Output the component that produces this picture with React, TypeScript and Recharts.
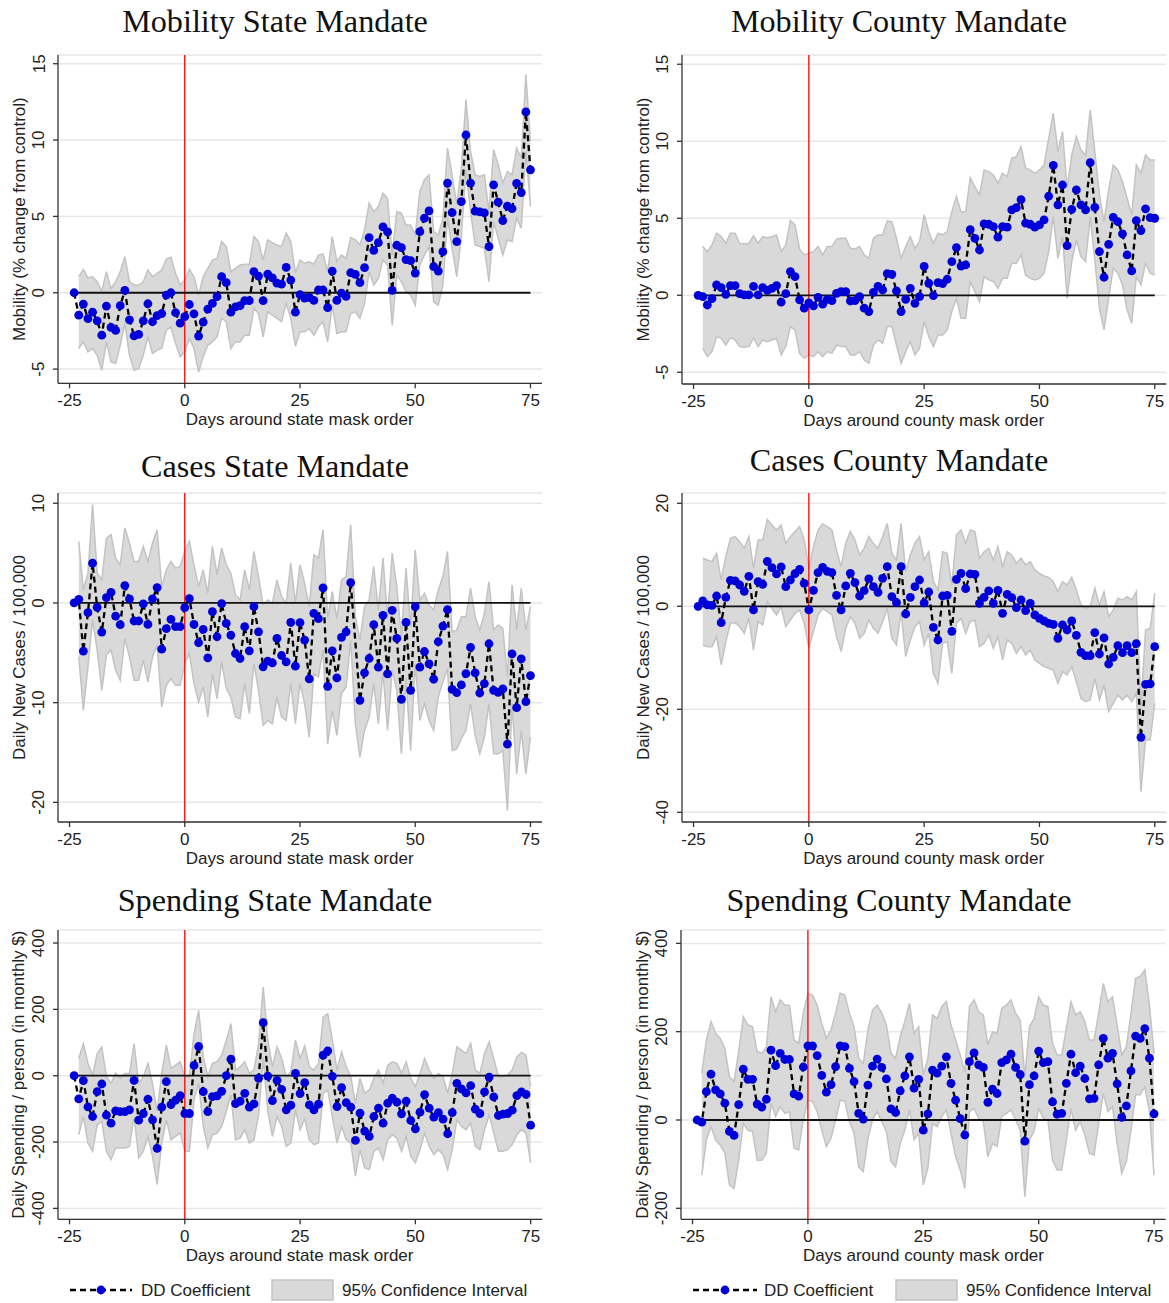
import React from 'react';
import { ComposedChart, Line, Area, XAxis, YAxis, CartesianGrid, ReferenceLine } from 'recharts';

// Days around the mask order (-24 .. 75)
const DAYS: number[] = Array.from({ length: 100 }, (_, i) => i - 24);
const X_TICKS = [-25, 0, 25, 50, 75];

// ---------- Mobility, state mandate ----------
const MOB_STATE_COEF = [
  0, -1.47, -0.74, -1.70, -1.27, -1.84, -2.78, -0.87, -2.27, -2.47,
  -0.85, 0.15, -1.77, -2.82, -2.73, -1.84, -0.72, -1.90, -1.50, -1.36,
  -0.15, 0.00, -1.31, -1.99, -1.57, -0.77, -1.38, -2.84, -1.92, -1.07,
  -0.70, -0.26, 1.05, 0.66, -1.27, -0.92, -0.85, -0.52, -0.52, 1.38,
  1.09, -0.52, 1.22, 0.98, 0.63, 0.57, 1.66, 0.83, -1.27, -0.13,
  -0.35, -0.31, -0.50, 0.18, 0.18, -0.98, 1.42, -0.50, -0.02, -0.24,
  1.31, 1.20, 0.66, 1.64, 3.61, 2.78, 3.28, 4.31, 3.98, 0.15,
  3.11, 2.95, 2.17, 2.10, 1.29, 4.00, 4.88, 5.36, 1.71, 1.42,
  2.69, 7.18, 5.25, 3.35, 5.97, 10.33, 7.18, 5.34, 5.30, 5.23,
  3.02, 7.07, 5.93, 4.73, 5.67, 5.51, 7.16, 6.56, 11.84, 8.05,
];
const MOB_STATE_HI = [
  null, 1.05, 1.53, 0.98, 1.05, 0.72, 0.07, 1.38, 0.28, 0.72,
  1.38, 2.36, 0.72, 0.50, 0.50, 0.72, 1.49, 1.05, 1.27, 1.49,
  2.21, 2.32, 1.27, 0.50, 0.83, 1.53, 1.05, -0.15, 1.05, 1.60,
  2.14, 2.25, 3.35, 3.02, 1.38, 1.60, 1.82, 1.86, 1.86, 3.68,
  3.35, 2.14, 3.46, 3.28, 3.13, 3.02, 3.90, 3.35, 1.30, 2.14,
  1.93, 2.03, 1.88, 2.47, 2.54, 1.38, 3.68, 2.03, 2.47, 2.25,
  3.61, 3.46, 3.13, 4.11, 5.86, 5.32, 5.65, 6.52, 6.19, 2.47,
  5.32, 5.21, 4.44, 4.44, 3.79, 6.63, 7.40, 7.72, 4.00, 3.79,
  4.88, 9.47, 7.72, 5.75, 8.16, 12.65, 9.26, 7.72, 7.61, 7.72,
  5.32, 9.37, 8.38, 7.18, 7.94, 7.72, 9.47, 8.82, 14.29, 9.91,
];
const MOB_STATE_LO = [
  null, -3.65, -3.22, -3.87, -3.65, -4.09, -5.08, -3.22, -4.53, -4.64,
  -3.44, -2.01, -4.09, -5.08, -4.97, -4.09, -2.89, -3.98, -3.76, -3.65,
  -2.45, -2.23, -3.33, -4.20, -3.87, -3.00, -3.65, -5.19, -4.20, -3.44,
  -3.22, -2.89, -1.68, -1.90, -3.65, -3.22, -3.22, -2.78, -2.78, -1.03,
  -1.36, -2.89, -1.25, -1.47, -1.68, -1.90, -0.70, -1.68, -3.50, -2.56,
  -2.56, -2.34, -2.78, -2.23, -1.90, -3.22, -0.81, -2.67, -2.56, -2.56,
  -1.36, -1.25, -1.68, -0.70, 1.38, 0.50, 0.94, 2.14, 1.82, -2.12,
  1.16, 0.72, 0.07, -0.15, -0.81, 1.82, 2.47, 3.02, -0.59, -0.81,
  0.50, 4.88, 2.91, 1.05, 3.68, 8.05, 5.32, 3.13, 3.02, 2.91,
  0.72, 4.66, 3.57, 2.47, 3.46, 3.35, 4.88, 4.22, 9.26, 5.65,
];

// ---------- Mobility, county mandate ----------
const MOB_COUNTY_COEF = [
  0, -0.09, -0.63, -0.22, 0.67, 0.50, 0.06, 0.63, 0.63, 0.11,
  0.02, 0.02, 0.58, 0.02, 0.50, 0.32, 0.45, 0.63, -0.45, 0.11,
  1.54, 1.21, -0.30, -0.84, -0.50, -0.69, -0.13, -0.58, -0.26, -0.35,
  0.13, 0.24, 0.24, -0.37, -0.35, -0.09, -0.84, -1.06, 0.19, 0.58,
  0.35, 1.41, 1.36, 0.28, -1.06, -0.26, 0.45, -0.52, -0.09, 1.88,
  0.78, -0.02, 0.82, 0.76, 1.04, 2.19, 3.10, 1.90, 1.97, 4.26,
  3.70, 2.94, 4.63, 4.61, 4.46, 3.77, 4.46, 4.42, 5.54, 5.69,
  6.21, 4.68, 4.61, 4.42, 4.57, 4.89, 6.43, 8.44, 5.87, 7.16,
  3.23, 5.58, 6.84, 5.87, 5.54, 8.61, 5.71, 2.84, 1.17, 3.31,
  5.06, 4.78, 3.98, 2.62, 1.58, 4.85, 4.20, 5.61, 5.04, 5.00,
];
const MOB_COUNTY_HI = [
  null, 3.16, 2.84, 3.27, 4.03, 3.81, 3.38, 4.03, 4.03, 3.38,
  3.33, 3.38, 3.85, 3.38, 3.81, 3.74, 3.81, 3.92, 2.84, 3.27,
  4.85, 4.57, 2.99, 2.62, 2.73, 2.84, 3.16, 2.62, 3.16, 3.16,
  3.64, 3.70, 3.70, 3.05, 3.01, 3.16, 2.62, 2.40, 3.70, 3.92,
  3.92, 4.83, 4.78, 3.70, 2.40, 3.16, 3.81, 3.05, 3.48, 5.24,
  4.13, 3.38, 4.03, 3.92, 4.13, 5.43, 6.41, 5.43, 5.43, 7.64,
  7.06, 6.52, 8.14, 8.03, 7.81, 7.27, 7.92, 7.71, 8.90, 9.00,
  9.65, 8.25, 8.14, 7.92, 8.14, 8.46, 10.19, 11.82, 9.33, 10.63,
  6.95, 9.11, 10.30, 9.44, 9.11, 12.03, 9.33, 6.52, 4.78, 6.84,
  8.46, 8.14, 7.38, 6.30, 5.22, 8.46, 7.92, 9.11, 8.79, 8.79,
];
const MOB_COUNTY_LO = [
  null, -3.44, -3.98, -3.66, -2.68, -2.79, -3.23, -2.75, -2.90, -3.33,
  -3.38, -3.33, -2.79, -3.33, -2.90, -3.01, -2.90, -2.79, -3.87, -3.33,
  -2.03, -2.25, -3.77, -4.09, -3.87, -3.98, -3.66, -3.98, -3.66, -3.77,
  -3.23, -3.33, -3.33, -3.87, -3.87, -3.66, -4.20, -4.42, -3.23, -2.90,
  -3.12, -2.03, -2.03, -3.23, -4.42, -3.66, -3.01, -3.87, -3.44, -1.71,
  -2.68, -3.33, -2.58, -2.58, -2.25, -1.06, -0.19, -1.49, -1.49, 0.89,
  0.24, -0.41, 1.21, 1.00, 0.89, 0.45, 1.10, 1.10, 2.08, 2.08,
  2.62, 1.32, 1.10, 1.00, 1.10, 1.43, 2.84, 5.11, 2.40, 3.81,
  -0.19, 2.19, 3.59, 2.51, 2.19, 5.11, 2.29, -0.84, -2.25, -0.19,
  1.75, 1.43, 0.67, -0.95, -1.82, 1.21, 0.67, 2.08, 1.43, 1.32,
];

// ---------- Cases, state mandate ----------
const CASES_STATE_COEF = [
  0, 0.37, -4.83, -0.97, 3.99, -0.44, -2.92, 0.54, 1.07, -1.31,
  -2.18, 1.74, 0.40, -1.81, -1.81, -0.10, -2.15, 0.40, 1.54, -4.63,
  -2.58, -1.64, -2.38, -2.38, -0.47, 0.44, -2.15, -3.99, -2.65, -5.50,
  -0.87, -3.39, -0.07, -2.05, -3.22, -5.07, -5.57, -2.38, -4.80, -0.37,
  -2.89, -6.41, -5.84, -6.01, -3.56, -5.27, -5.91, -1.95, -6.34, -1.98,
  -3.72, -7.62, -1.04, -1.58, 1.51, -8.36, -4.80, -7.52, -3.46, -2.89,
  2.05, null, -9.77, -7.01, -5.57, -2.18, -6.44, -1.24, -7.11, -0.74,
  -3.56, -9.66, -1.95, -8.76, -0.37, -6.44, -4.87, -6.11, -7.65, -3.89,
  -2.32, -0.67, -8.66, -8.99, -8.22, -7.08, -4.46, -7.01, -9.03, -8.09,
  -4.09, -8.76, -8.96, -8.62, -14.16, -5.10, -10.50, -5.60, -9.90, -7.28,
];
const CASES_STATE_HI = [
  null, 6.17, 1.31, 2.99, 9.87, 2.99, 2.32, 6.51, 6.85, 4.50,
  3.83, 7.52, 6.01, 4.16, 4.16, 5.67, 4.16, 6.01, 7.35, 1.64,
  3.32, 4.16, 3.49, 3.66, 5.17, 6.17, 3.83, 1.64, 3.32, 0.97,
  5.67, 2.82, 5.50, 3.83, 2.99, 0.81, 0.30, 3.32, 1.31, 5.17,
  2.65, -0.20, 0.30, -0.03, 2.32, 0.64, -0.03, 3.99, -0.03, 3.83,
  1.98, -0.37, 4.83, 4.50, 7.35, -1.54, 1.14, -1.54, 2.32, 2.65,
  7.85, -1.38, -3.72, -0.37, 0.30, 3.66, -0.70, 4.50, -1.38, 5.00,
  1.64, -3.39, 3.49, -2.38, 5.34, 0.30, 0.97, -0.20, -0.70, 1.31,
  2.65, 5.17, -2.89, -2.72, -1.38, -1.38, 1.48, -1.38, -2.72, -1.04,
  2.15, -2.72, -2.21, -2.55, -7.42, 1.81, -2.72, 1.48, -2.72, -0.37,
];
const CASES_STATE_LO = [
  null, -5.40, -10.77, -6.41, -1.71, -4.73, -8.76, -5.23, -4.73, -6.74,
  -7.75, -3.56, -5.40, -7.75, -7.75, -5.74, -7.92, -5.40, -4.23, -10.44,
  -8.26, -7.58, -8.26, -8.26, -6.07, -5.07, -8.09, -9.93, -8.42, -11.44,
  -7.08, -9.60, -5.91, -8.59, -9.43, -11.44, -11.61, -8.09, -11.11, -6.07,
  -8.76, -12.28, -11.78, -12.11, -9.43, -11.44, -11.78, -8.09, -12.11, -8.09,
  -10.10, -13.46, -7.08, -7.42, -4.73, -14.13, -10.77, -13.29, -9.09, -8.42,
  -3.72, -12.11, -15.47, -12.79, -11.44, -8.09, -12.11, -6.91, -12.79, -6.74,
  -8.76, -15.13, -7.58, -14.80, -6.07, -11.78, -10.10, -11.78, -12.79, -9.43,
  -7.92, -6.58, -14.80, -14.63, -13.62, -12.79, -10.10, -13.29, -15.13, -13.46,
  -10.10, -15.13, -15.13, -14.80, -20.84, -10.10, -17.15, -12.79, -17.15, -13.46,
];

// ---------- Cases, county mandate ----------
const CASES_COUNTY_COEF = [
  0, 1.04, 0.26, 0.19, 2.00, -3.17, 1.75, 5.05, 4.92, 4.14,
  2.91, 5.83, -0.71, 4.79, 4.27, 8.74, 7.51, 6.28, 7.64, 3.82,
  5.11, 6.34, 7.18, 4.47, -0.71, 3.11, 6.54, 7.57, 6.80, 6.54,
  2.14, -0.71, 3.95, 6.41, 4.60, 2.00, 3.04, 5.31, 3.82, 2.72,
  5.44, 7.70, 1.88, 0.71, 7.70, -1.49, 1.75, 3.82, 5.11, 0.65,
  2.78, -4.08, -6.54, 2.00, 2.14, -4.85, 5.24, 6.41, 3.43, 6.28,
  6.21, 0.58, 1.75, 2.98, 0.58, 3.11, -1.36, 2.33, 1.68, -0.26,
  1.23, -0.84, 0.58, -1.68, -2.33, -2.85, -3.30, -3.50, -6.21, -3.62,
  -4.60, -2.85, -5.63, -8.93, -9.58, -9.58, -5.11, -9.26, -6.15, -11.20,
  -9.90, -7.64, -9.00, -7.64, -9.00, -7.25, -25.44, -15.15, -15.08, -7.83,
];
const CASES_COUNTY_HI = [
  null, 9.32, 9.00, 8.67, 10.29, 5.11, 9.64, 13.20, 13.53, 12.56,
  11.26, 13.53, 7.38, 12.88, 12.88, 16.89, 15.79, 14.82, 15.79, 12.23,
  13.53, 14.50, 15.47, 12.88, 7.38, 11.59, 14.82, 15.99, 15.47, 14.82,
  10.94, 7.70, 12.23, 14.50, 12.88, 9.97, 11.26, 13.53, 12.23, 11.26,
  13.53, 16.12, 10.29, 9.00, 16.12, 6.73, 9.97, 12.23, 13.53, 9.00,
  10.61, 4.79, 3.17, 10.61, 10.29, 4.14, 13.85, 14.82, 12.23, 14.82,
  14.50, 9.32, 10.61, 11.26, 9.00, 11.59, 7.70, 10.61, 9.97, 8.35,
  9.32, 8.03, 8.67, 7.06, 6.41, 5.89, 5.63, 4.79, 2.85, 4.79,
  4.14, 5.63, 3.17, 0.26, -0.39, -0.06, 3.50, 0.26, 2.85, -2.01,
  -0.71, 1.55, 1.23, 1.88, 1.23, 2.85, -19.50, -4.60, -4.27, 2.52,
];
const CASES_COUNTY_LO = [
  null, -7.51, -7.83, -7.83, -5.89, -11.39, -6.86, -3.30, -3.17, -3.95,
  -5.24, -2.33, -8.48, -2.98, -3.62, 0.91, -0.39, -1.68, -0.06, -3.95,
  -2.65, -1.36, -0.71, -3.30, -8.16, -4.92, -1.68, -0.39, -1.04, -1.68,
  -5.89, -8.80, -4.27, -2.01, -3.30, -6.21, -5.24, -2.65, -4.27, -5.24,
  -2.98, -0.39, -6.21, -7.51, -1.04, -9.77, -6.54, -3.95, -2.98, -7.51,
  -5.24, -13.01, -14.95, -7.18, -6.86, -13.01, -3.30, -2.33, -5.24, -2.98,
  -2.65, -7.83, -7.18, -5.57, -8.16, -5.89, -10.42, -6.54, -7.18, -9.13,
  -7.83, -9.45, -8.48, -10.42, -11.07, -11.72, -12.04, -12.36, -14.95, -12.69,
  -13.33, -11.72, -14.63, -17.86, -18.51, -18.19, -13.98, -18.19, -15.28, -20.45,
  -18.83, -17.22, -18.19, -17.22, -18.51, -16.89, -35.99, -25.95, -25.95, -18.83,
];

// ---------- Spending, state mandate ----------
const SPEND_STATE_COEF = [
  0, -70, -15, -94, -123, -48, -25, -119, -143, -106,
  -108, -108, -103, -14, -134, -114, -71, -133, -219, -95,
  -18, -87, -74, -60, -114, -114, 31, 88, -48, -108,
  -63, -61, -47, 0, 50, -84, -77, -53, -95, -85,
  -8, 160, -1, -75, -14, -41, -103, -89, 7, -54,
  -21, -88, -103, -86, 62, 75, -2, -93, -36, -81,
  -95, -195, -113, -167, -183, -123, -98, -143, -83, -68,
  -80, -115, -77, -135, -160, -110, -57, -98, -125, -111,
  -131, -175, -111, -23, -40, -52, -30, -101, -114, -49,
  -4, -64, -120, -116, -114, -104, -60, -49, -56, -149,
];
const SPEND_STATE_HI = [
  null, 52, 97, 37, 2, 67, 87, -3, -23, 7,
  -8, 7, 7, 97, -23, -3, 37, -23, -108, 7,
  92, 22, 32, 42, -3, -3, 127, 197, 57, -3,
  37, 42, 62, 107, 157, 17, 27, 42, 7, 17,
  97, 267, 107, 27, 87, 52, -3, 12, 107, 52,
  90, 27, 17, 37, 177, 187, 107, 17, 72, 27,
  -3, -83, -8, -53, -43, -8, 17, -23, 32, 42,
  37, 7, 42, -8, -33, 7, 52, 17, -8, 7,
  -3, -53, 7, 87, 77, 67, 97, 17, 7, 67,
  102, 52, -3, -3, 2, 17, 57, 70, 62, -33,
];
const SPEND_STATE_LO = [
  null, -178, -123, -203, -228, -148, -138, -228, -253, -218,
  -218, -218, -213, -123, -248, -228, -183, -243, -328, -203,
  -133, -193, -183, -173, -228, -228, -73, -23, -153, -218,
  -178, -173, -153, -108, -58, -193, -188, -163, -203, -193,
  -118, 52, -108, -183, -123, -153, -213, -203, -103, -163,
  -130, -193, -208, -203, -53, -43, -123, -203, -153, -193,
  -203, -303, -223, -278, -283, -228, -218, -253, -193, -178,
  -188, -228, -183, -243, -263, -223, -173, -213, -238, -223,
  -238, -283, -223, -133, -153, -163, -143, -213, -223, -163,
  -118, -173, -228, -228, -223, -208, -178, -163, -173, -263,
];

// ---------- Spending, county mandate ----------
const SPEND_COUNTY_COEF = [
  0, -5, 64, 104, 68, 59, 38, -26, -35, 35,
  115, 92, 92, 36, 29, 47, 158, 123, 151, 137,
  137, 59, 54, 120, 168, 168, 146, 101, 63, 80,
  121, 168, 166, 117, 87, 15, 2, 79, 122, 138,
  119, 93, 25, 17, 66, 100, 143, 72, 92, -23,
  14, 113, 106, 122, 143, 83, 45, 3, -34, 132,
  152, 125, 119, 40, 70, 60, 130, 136, 149, 119,
  103, -48, 80, 100, 156, 130, 132, 41, 13, 15,
  83, 149, 107, 122, 94, 48, 49, 125, 185, 140,
  151, 82, 6, 32, 111, 190, 185, 207, 140, 14,
];
const SPEND_COUNTY_HI = [
  null, 106, 181, 223, 196, 185, 162, 98, 87, 155,
  234, 215, 211, 155, 151, 166, 279, 245, 272, 260,
  260, 181, 174, 242, 287, 283, 260, 219, 185, 204,
  242, 287, 283, 242, 211, 140, 128, 204, 249, 260,
  242, 215, 151, 140, 189, 223, 264, 196, 211, 102,
  140, 238, 230, 257, 268, 215, 181, 147, 109, 257,
  272, 245, 238, 170, 200, 196, 253, 260, 272, 242,
  226, 98, 211, 230, 279, 260, 257, 174, 147, 147,
  208, 268, 238, 245, 223, 181, 181, 242, 309, 268,
  279, 215, 147, 166, 242, 321, 325, 340, 260, 151,
];
const SPEND_COUNTY_LO = [
  null, -125, -45, -15, -45, -57, -75, -147, -155, -91,
  -8, -23, -26, -91, -91, -75, 38, 8, 30, 15,
  19, -64, -68, 0, 45, 42, 19, -23, -60, -42,
  0, 45, 42, -4, -30, -106, -117, -42, 0, 19,
  -4, -26, -94, -106, -53, -23, 23, -45, -30, -147,
  -109, -8, -15, 8, 23, -30, -83, -113, -155, 19,
  26, 4, -4, -83, -53, -60, 8, 15, 23, 0,
  -23, -174, -45, -26, 26, 4, 0, -91, -113, -113,
  -45, 26, -23, -4, -34, -75, -79, -8, 60, 19,
  30, -53, -121, -94, -23, 57, 57, 75, 19, -125,
];

const SANS = "'Liberation Sans', Arial, Helvetica, sans-serif";
const SERIF = "'Liberation Serif', 'Times New Roman', serif";
const DOT_BLUE = '#0000d8';
const BAND_FILL = '#d9d9d9';
const BAND_STROKE = '#c3c3c3';

type PanelCfg = {
  title: string; titleX: number; titleY: number;
  yTitle: string; xTitle: string;
  left: number; right: number; top: number; bottom: number;
  yDomain: [number, number]; yTicks: number[];
  coef: (number | null)[]; lo: (number | null)[]; hi: (number | null)[];
};

const PANELS: PanelCfg[] = [
  { title: 'Mobility State Mandate', titleX: 275, titleY: 22, yTitle: 'Mobility (% change from control)', xTitle: 'Days around state mask order',
    left: 57.7, right: 541.7, top: 55, bottom: 383.3, yDomain: [-5.93, 15.57], yTicks: [-5, 0, 5, 10, 15],
    coef: MOB_STATE_COEF, lo: MOB_STATE_LO, hi: MOB_STATE_HI },
  { title: 'Mobility County Mandate', titleX: 899, titleY: 22, yTitle: 'Mobility (% change from control)', xTitle: 'Days around county mask order',
    left: 681.5, right: 1165.8, top: 55, bottom: 384, yDomain: [-5.76, 15.6], yTicks: [-5, 0, 5, 10, 15],
    coef: MOB_COUNTY_COEF, lo: MOB_COUNTY_LO, hi: MOB_COUNTY_HI },
  { title: 'Cases State Mandate', titleX: 275, titleY: 467, yTitle: 'Daily New Cases / 100,000', xTitle: 'Days around state mask order',
    left: 57.7, right: 541.7, top: 493, bottom: 822, yDomain: [-21.97, 11.03], yTicks: [-20, -10, 0, 10],
    coef: CASES_STATE_COEF, lo: CASES_STATE_LO, hi: CASES_STATE_HI },
  { title: 'Cases County Mandate', titleX: 899, titleY: 461, yTitle: 'Daily New Cases / 100,000', xTitle: 'Days around county mask order',
    left: 681.5, right: 1165.8, top: 493, bottom: 822, yDomain: [-41.88, 22.0], yTicks: [-40, -20, 0, 20],
    coef: CASES_COUNTY_COEF, lo: CASES_COUNTY_LO, hi: CASES_COUNTY_HI },
  { title: 'Spending State Mandate', titleX: 275, titleY: 901, yTitle: 'Daily Spending / person (in monthly $)', xTitle: 'Days around state mask order',
    left: 57.5, right: 541.7, top: 930, bottom: 1219.3, yDomain: [-432.9, 439.3], yTicks: [-400, -200, 0, 200, 400],
    coef: SPEND_STATE_COEF, lo: SPEND_STATE_LO, hi: SPEND_STATE_HI },
  { title: 'Spending County Mandate', titleX: 899, titleY: 901, yTitle: 'Daily Spending / person (in monthly $)', xTitle: 'Days around county mask order',
    left: 681.2, right: 1165.8, top: 930, bottom: 1219.3, yDomain: [-224.9, 430.3], yTicks: [-200, 0, 200, 400],
    coef: SPEND_COUNTY_COEF, lo: SPEND_COUNTY_LO, hi: SPEND_COUNTY_HI },
];

const XTick = (p: any) => (
  <text x={p.x} y={p.y + 18} textAnchor="middle" fontFamily={SANS} fontSize={17} fill="#222">
    {p.payload.value}
  </text>
);

const YTick = (p: any) => {
  const bx = p.x - 8.5;
  return (
    <text x={bx} y={p.y} transform={`rotate(-90 ${bx} ${p.y})`} textAnchor="middle" fontFamily={SANS} fontSize={17} fill="#222">
      {p.payload.value}
    </text>
  );
};

const BlueDot = (p: any) => {
  if (p.cy == null || p.value == null || isNaN(p.cy)) return <g key={p.key ?? `d${p.index}`} />;
  return <circle key={p.key ?? `d${p.index}`} cx={p.cx} cy={p.cy} r={4.4} fill={DOT_BLUE} stroke="none" />;
};

function Panel({ cfg }: { cfg: PanelCfg }) {
  const ML = 60, MT = 10, MR = 10, XH = 45;
  const pw = cfg.right - cfg.left;
  const ph = cfg.bottom - cfg.top;
  const W = pw + ML + MR;
  const H = ph + MT + XH;
  const data = DAYS.map((d, i) => ({
    day: d,
    coef: cfg.coef[i],
    band: cfg.lo[i] == null || cfg.hi[i] == null ? null : [cfg.lo[i], cfg.hi[i]],
  }));
  return (
    <div style={{ position: 'absolute', left: cfg.left - ML, top: cfg.top - MT, width: W, height: H }}>
      <ComposedChart width={W} height={H} data={data} margin={{ top: MT, right: MR, bottom: 0, left: 0 }}>
        <CartesianGrid vertical={false} stroke="#e7e7e7" strokeWidth={1.5} />
        <XAxis type="number" dataKey="day" domain={[-27.5, 77.5]} ticks={X_TICKS} allowDataOverflow interval={0}
          height={XH} tickSize={5} tickMargin={0} tick={XTick}
          axisLine={{ stroke: '#333', strokeWidth: 1.3 }} tickLine={{ stroke: '#333', strokeWidth: 1.3 }} />
        <YAxis type="number" domain={cfg.yDomain} ticks={cfg.yTicks} allowDataOverflow interval={0}
          width={ML} tickSize={5} tickMargin={0} tick={YTick}
          axisLine={{ stroke: '#333', strokeWidth: 1.3 }} tickLine={{ stroke: '#333', strokeWidth: 1.3 }} />
        <Area dataKey="band" type="linear" fill={BAND_FILL} fillOpacity={1} stroke={BAND_STROKE} strokeWidth={1.5}
          isAnimationActive={false} dot={false} activeDot={false} connectNulls={false} />
        <ReferenceLine x={0} stroke="#ff0000" strokeWidth={1.3} />
        <ReferenceLine segment={[{ x: -24, y: 0 }, { x: 75, y: 0 }]} stroke="#111" strokeWidth={1.8} />
        <Line dataKey="coef" type="linear" stroke="#000" strokeWidth={2.3} strokeDasharray="6 4"
          dot={BlueDot} activeDot={false} connectNulls isAnimationActive={false} />
      </ComposedChart>
    </div>
  );
}

function Overlay() {
  return (
    <svg width={1169} height={1303} style={{ position: 'absolute', left: 0, top: 0, pointerEvents: 'none' }}>
      {PANELS.map((p, i) => {
        const cy = (p.top + p.bottom) / 2;
        const bx = p.left - 33;
        const cx = (p.left + p.right) / 2;
        return (
          <g key={i}>
            <text x={p.titleX} y={p.titleY + 10} textAnchor="middle" fontFamily={SERIF} fontSize={32.2} fill="#111">{p.title}</text>
            <text x={bx} y={cy} transform={`rotate(-90 ${bx} ${cy})`} textAnchor="middle" fontFamily={SANS} fontSize={17} fill="#222">{p.yTitle}</text>
            <text x={cx} y={p.bottom + 42} textAnchor="middle" fontFamily={SANS} fontSize={17} fill="#222">{p.xTitle}</text>
          </g>
        );
      })}
      {[{ x0: 70, x1: 132, t: 141, b0: 272, bt: 342 }, { x0: 693, x1: 757, t: 764, b0: 896, bt: 966 }].map((l, i) => (
        <g key={`lg${i}`}>
          <line x1={l.x0} y1={1290} x2={l.x1} y2={1290} stroke="#000" strokeWidth={2.3} strokeDasharray="6 4" />
          <circle cx={(l.x0 + l.x1) / 2} cy={1290} r={4.4} fill={DOT_BLUE} />
          <text x={l.t} y={1296} fontFamily={SANS} fontSize={17} fill="#222">DD Coefficient</text>
          <rect x={l.b0} y={1280} width={61} height={20} fill={BAND_FILL} stroke={BAND_STROKE} strokeWidth={1.5} />
          <text x={l.bt} y={1296} fontFamily={SANS} fontSize={17} fill="#222">95% Confidence Interval</text>
        </g>
      ))}
    </svg>
  );
}

export default function App() {
  return (
    <div style={{ position: 'absolute', left: 0, top: 0, width: 1169, height: 1303, background: '#fff', overflow: 'hidden' }}>
      {PANELS.map((p, i) => <Panel key={i} cfg={p} />)}
      <Overlay />
    </div>
  );
}
